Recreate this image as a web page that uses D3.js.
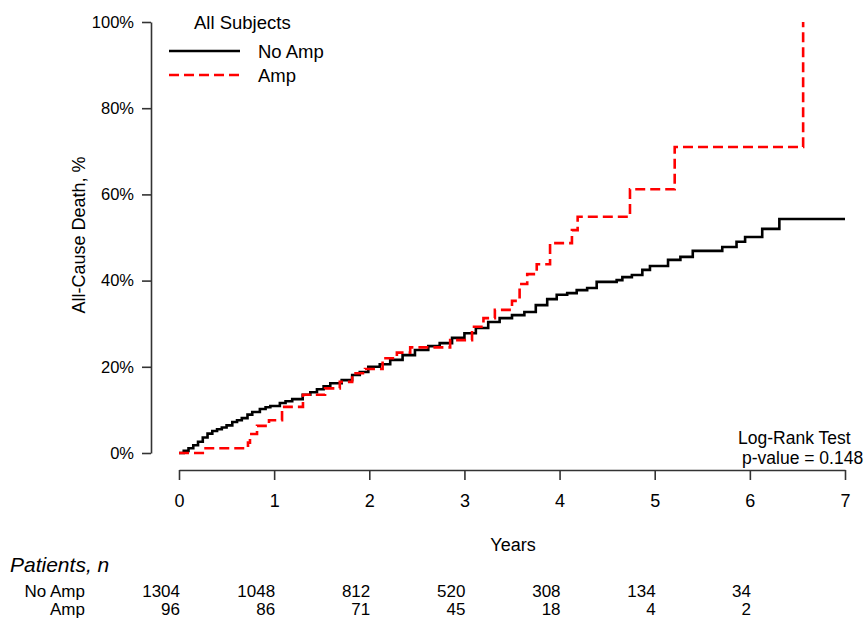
<!DOCTYPE html>
<html>
<head>
<meta charset="utf-8">
<script src="https://cdn.jsdelivr.net/npm/d3@7"></script>
<style>
  html, body { margin: 0; padding: 0; background: #fff; }
  svg { display: block; }
  text { font-family: "Liberation Sans", Arial, Helvetica, sans-serif; fill: #000; }
</style>
</head>
<body>
<svg id="chart" width="866" height="618"></svg>
<script>
// ---- data ----
const noAmpTimes = [0, 0.05, 0.10, 0.15, 0.20, 0.25, 0.30, 0.35, 0.40, 0.45, 0.50, 0.56, 0.61, 0.66, 0.72, 0.77, 0.85, 0.91, 0.96, 1.06, 1.12, 1.19, 1.30, 1.38, 1.45, 1.52, 1.59, 1.71, 1.82, 1.90, 1.99, 2.11, 2.22, 2.35, 2.48, 2.62, 2.74, 2.87, 3.00, 3.12, 3.25, 3.37, 3.50, 3.63, 3.75, 3.87, 3.97, 4.08, 4.18, 4.29, 4.39, 4.60, 4.66, 4.76, 4.87, 4.95, 5.14, 5.27, 5.40, 5.71, 5.86, 5.95, 6.13, 6.31, 7.0];
const noAmpPct   = [0, 0.5, 1.1, 1.8, 2.6, 3.6, 4.5, 5.1, 5.5, 5.9, 6.4, 7.2, 7.6, 8.1, 8.9, 9.5, 10.2, 10.6, 10.9, 11.6, 12.0, 12.5, 13.5, 14.1, 14.8, 15.5, 16.2, 16.9, 18.1, 18.8, 20.0, 20.6, 21.6, 22.7, 23.9, 24.8, 25.5, 26.7, 27.8, 29.0, 30.4, 31.3, 32.0, 32.7, 34.3, 35.7, 36.7, 37.1, 37.8, 38.3, 39.7, 40.1, 40.8, 41.3, 42.5, 43.4, 44.8, 45.5, 46.9, 47.8, 49.0, 50.1, 52.0, 54.3, 54.3];

const ampTimes = [0, 0.25, 0.725, 0.746, 0.82, 0.946, 1.083, 1.303, 1.535, 1.69, 1.82, 1.955, 2.14, 2.29, 2.43, 2.85, 3.08, 3.20, 3.32, 3.50, 3.58, 3.66, 3.76, 3.90, 4.13, 4.19, 4.74, 5.21, 6.56];
const ampPct   = [0, 1.1, 2.4, 4.4, 6.3, 7.6, 10.7, 13.5, 15.0, 16.5, 18.5, 19.5, 22.0, 23.3, 24.5, 26.2, 29.3, 31.3, 33.2, 35.3, 39.2, 41.5, 43.8, 48.7, 51.7, 54.8, 61.2, 71.0, 100];

const xTicks = [0, 1, 2, 3, 4, 5, 6, 7];
const yTicks = [0, 20, 40, 60, 80, 100];
const riskTimes = [0, 1, 2, 3, 4, 5, 6];
const riskNoAmp = [1304, 1048, 812, 520, 308, 134, 34];
const riskAmp   = [96, 86, 71, 45, 18, 4, 2];
const groups = ["No Amp", "Amp"];

// ---- chart ----
const svg = d3.select("#chart");
const x = d3.scaleLinear().domain([0, 7]).range([179, 845]);
const y = d3.scaleLinear().domain([0, 100]).range([453, 22]);
const axisColor = "#333";

// Y axis
const yAxis = svg.append("g").attr("transform", "translate(151,0)")
  .call(d3.axisLeft(y).tickValues(yTicks).tickSize(9).tickSizeOuter(0).tickPadding(8)
    .tickFormat(d => d + "%"));
yAxis.selectAll("path, line").attr("stroke", axisColor).attr("stroke-width", 1.6);
yAxis.selectAll("text").attr("font-size", "16.5px").attr("font-family", "Liberation Sans, Arial, sans-serif").attr("fill", "#000");

// X axis
const xAxis = svg.append("g").attr("transform", "translate(0,470)")
  .call(d3.axisBottom(x).tickValues(xTicks).tickSize(10).tickSizeOuter(0).tickPadding(14)
    .tickFormat(d3.format("d")));
xAxis.selectAll("path, line").attr("stroke", axisColor).attr("stroke-width", 1.6);
xAxis.selectAll("text").attr("font-size", "18px").attr("font-family", "Liberation Sans, Arial, sans-serif").attr("fill", "#000");

// Axis titles
svg.append("text").attr("x", 513).attr("y", 551).attr("text-anchor", "middle")
  .attr("font-size", "18px").text("Years");
svg.append("text").attr("transform", "translate(85,235) rotate(-90)").attr("text-anchor", "middle")
  .attr("font-size", "18px").text("All-Cause Death, %");

// Curves
const line = d3.line().x(d => x(d[0])).y(d => y(d[1])).curve(d3.curveStepAfter);
const noAmpData = noAmpTimes.map((t, i) => [t, noAmpPct[i]]);
const ampData = ampTimes.map((t, i) => [t, ampPct[i]]);

svg.append("path").datum(noAmpData).attr("d", line)
  .attr("fill", "none").attr("stroke", "#000").attr("stroke-width", 2.6);
svg.append("path").datum(ampData).attr("d", line)
  .attr("fill", "none").attr("stroke", "#ff0000").attr("stroke-width", 2.6)
  .attr("stroke-dasharray", "10,5");

// Legend
svg.append("text").attr("x", 194).attr("y", 29).attr("font-size", "18.5px").text("All Subjects");
const legendItems = [
  { name: groups[0], color: "#000", dash: null, yy: 51 },
  { name: groups[1], color: "#ff0000", dash: "10,5", yy: 75 }
];
legendItems.forEach(it => {
  svg.append("line").attr("x1", 169).attr("x2", 240).attr("y1", it.yy).attr("y2", it.yy)
    .attr("stroke", it.color).attr("stroke-width", 2.6).attr("stroke-dasharray", it.dash);
  svg.append("text").attr("x", 258).attr("y", it.yy + 7).attr("font-size", "18.5px").text(it.name);
});

// Log-rank annotation
svg.append("text").attr("x", 738).attr("y", 444).attr("font-size", "17.5px").text("Log-Rank Test");
svg.append("text").attr("x", 742).attr("y", 464).attr("font-size", "17.5px").text("p-value = 0.148");

// Risk table
svg.append("text").attr("x", 10).attr("y", 572).attr("font-size", "21px")
  .attr("font-style", "italic").text("Patients, n");
const rows = [{ name: groups[0], vals: riskNoAmp, yy: 597 }, { name: groups[1], vals: riskAmp, yy: 615 }];
rows.forEach(r => {
  svg.append("text").attr("x", 85).attr("y", r.yy).attr("text-anchor", "end")
    .attr("font-size", "17px").text(r.name);
  svg.append("g").selectAll("text").data(riskTimes).join("text")
    .attr("x", d => x(d) + 1).attr("y", r.yy).attr("text-anchor", "end")
    .attr("font-size", "17px").text((d, i) => r.vals[i]);
});
</script>
</body>
</html>
